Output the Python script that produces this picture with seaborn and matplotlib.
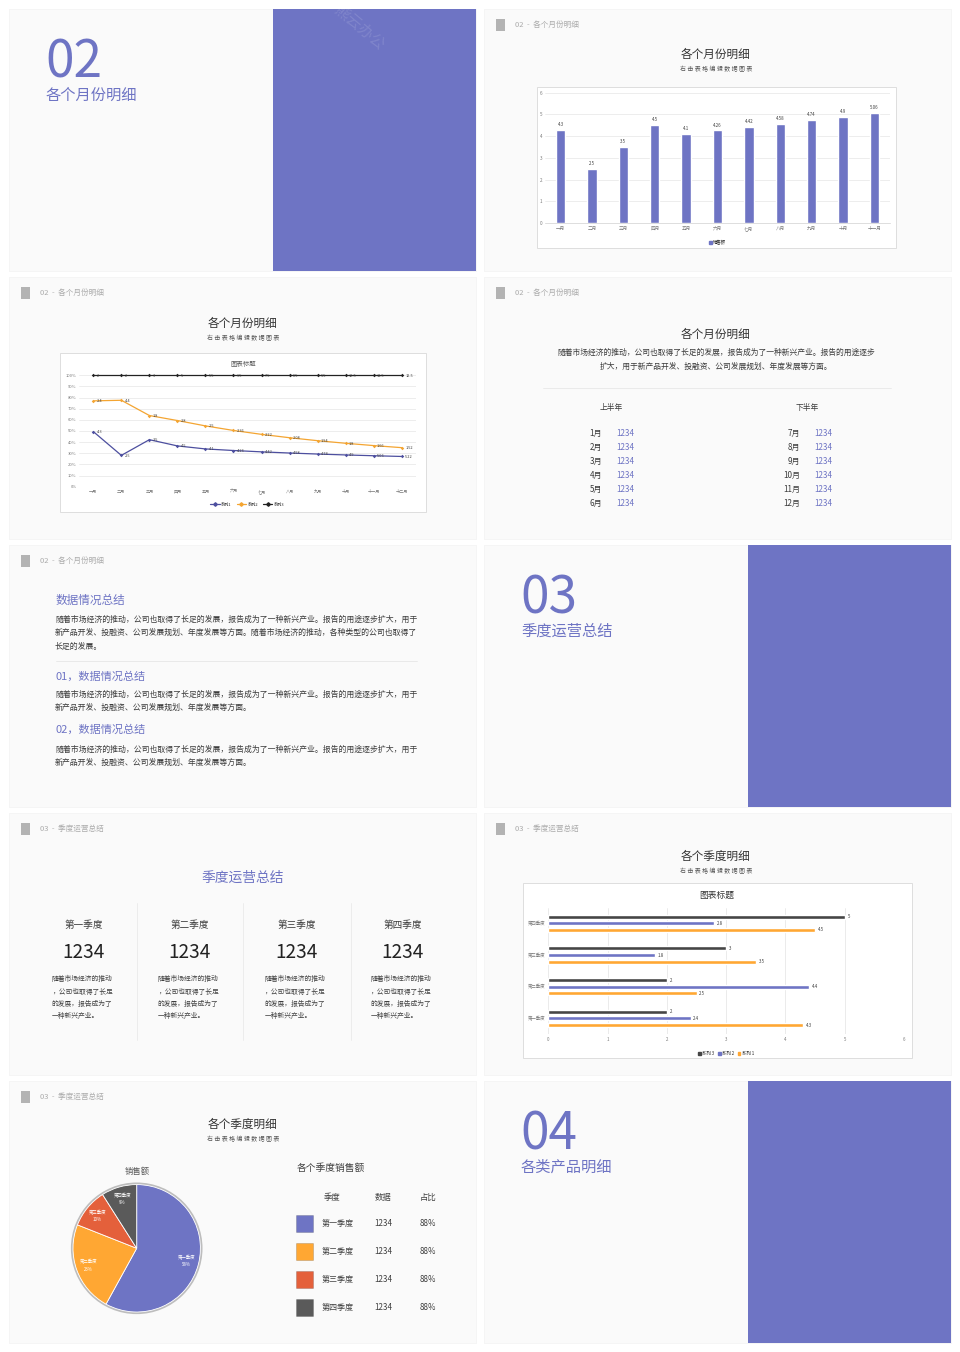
import numpy as np
import pandas as pd
import seaborn as sns
import matplotlib.pyplot as plt
from matplotlib.patches import Rectangle, Patch, Circle
from matplotlib.lines import Line2D

# ---- data ----
months_11 = ['一月', '二月', '三月', '四月', '五月', '六月', '七月', '八月', '九月', '十月', '十一月']
sales_11 = [4.3, 2.5, 3.5, 4.5, 4.1, 4.26, 4.42, 4.58, 4.74, 4.9, 5.06]

months_12 = months_11 + ['十二月']
line_s1 = [4.3, 2.5, 3.5, 4.5, 4.1, 4.26, 4.42, 4.58, 4.74, 4.9, 5.06, 5.22]
line_s2 = [2.4, 4.4, 1.8, 2.8, 2.5, 2.36, 2.22, 2.08, 1.94, 1.8, 1.66, 1.52]
line_s3 = [2, 2, 3, 5, 5.5, 6.5, 7.5, 8.5, 9.5, 10.5, 11.5, 12.5]

quarters = ['第一季度', '第二季度', '第三季度', '第四季度']
q_s1 = [4.3, 2.5, 3.5, 4.5]
q_s2 = [2.4, 4.4, 1.8, 2.8]
q_s3 = [2, 2, 3, 5]

pie_share = [58, 23, 10, 9]

first_half = ['1月', '2月', '3月', '4月', '5月', '6月']
second_half = ['7月', '8月', '9月', '10月', '11月', '12月']
month_values = ['1234'] * 6
quarter_values = ['1234'] * 4
table_values = ['1234'] * 4
table_ratio = ['88%'] * 4

PURPLE = '#6E74C4'
ORANGE = '#FFA733'
RED = '#E4603B'
DARK = '#454545'
GREY_PIE = '#5A5A5A'
LINE1 = '#4D4F9F'
LINE2 = '#F4A532'
LINE3 = '#222222'
TXT = '#3A3A3A'

PARA = '随着市场经济的推动，公司也取得了长足的发展，报告成为了一种新兴产业。报告的用途逐步扩大，用于'

sns.set_theme(style='white')
plt.rcParams['font.family'] = ['Noto Sans CJK SC', 'DejaVu Sans']
plt.rcParams['axes.unicode_minus'] = False

W, H = 960, 1352
fig = plt.figure(figsize=(9.6, 13.52), dpi=100)
fig.patch.set_facecolor('white')
bg = fig.add_axes([0, 0, 1, 1])
bg.set_xlim(0, W)
bg.set_ylim(H, 0)
bg.axis('off')

COLS = [9, 484]
ROWS = [9, 277, 545, 813, 1081]
SW, SH = 467, 262


def px_axes(x, y, w, h):
    return fig.add_axes([x / W, 1 - (y + h) / H, w / W, h / H])


def slide(c, r):
    x0, y0 = COLS[c], ROWS[r]
    bg.add_patch(Rectangle((x0, y0), SW, SH, fc='#FAFAFA', ec='#F2F2F2', lw=0.5))
    return x0, y0


def header(x0, y0, text):
    bg.add_patch(Rectangle((x0 + 12, y0 + 10), 9, 12, fc='#B3B3B3', ec='none'))
    bg.text(x0 + 31, y0 + 16, text, fontsize=5.5, color='#ABABAB', va='center')


def titles(cx, y, title, sub=True):
    bg.text(cx, y, title, fontsize=8.4, color='#333333', ha='center', va='center')
    if sub:
        bg.text(cx, y + 15, ' '.join('右击表格编辑数据图表'), fontsize=4.3, color='#555555',
                ha='center', va='center')


def section(c, r, num, title, mark=False):
    x0, y0 = slide(c, r)
    bg.text(x0 + 36, y0 + 68, num, fontsize=37, color=PURPLE, va='baseline', fontweight='light')
    bg.text(x0 + 37, y0 + 86, title, fontsize=11, color=PURPLE, va='center')
    bg.add_patch(Rectangle((x0 + 264, y0), SW - 264, SH, fc=PURPLE, ec='none'))
    if mark:
        t = bg.text(x0 + 350, y0 + 18, '熊云办公', fontsize=11, color='white', alpha=0.12,
                    rotation=-40, ha='center', va='center')
        t.set_clip_path(Rectangle((x0 + 264, y0), SW - 264, SH, transform=bg.transData))


def style_small(ax):
    ax.set_facecolor('none')
    for s in ax.spines.values():
        s.set_visible(False)
    ax.set_xlabel('')
    ax.set_ylabel('')
    ax.tick_params(length=0, pad=2, labelsize=3.3, colors='#7A7A7A')


# ---- slide 1: section 02 ----
section(0, 0, '02', '各个月份明细', mark=True)

# ---- slide 2: monthly bar chart ----
x0, y0 = slide(1, 0)
header(x0, y0, '02  -  各个月份明细')
titles(716, 54, '各个月份明细')
bg.add_patch(Rectangle((537, 87), 359, 161, fc='white', ec='#D9D9D9', lw=0.6))
ax = px_axes(545, 92.7, 345, 130.3)
bar_df = pd.DataFrame({'month': months_11, 'sales': sales_11})
sns.barplot(data=bar_df, x='month', y='sales', color=PURPLE, width=0.3, saturation=1, ax=ax)
ax.set_ylim(0, 6)
ax.set_yticks(range(7))
ax.grid(axis='y', color='#E6E6E6', lw=0.5)
ax.set_axisbelow(True)
style_small(ax)
ax.spines['bottom'].set_visible(True)
ax.spines['bottom'].set_color('#D0D0D0')
ax.spines['bottom'].set_linewidth(0.5)
ax.bar_label(ax.containers[0], fmt='%g', padding=2, fontsize=3.2, color='#404040')
ax.legend(handles=[Patch(color=PURPLE, label='销售额')], loc='upper center',
          bbox_to_anchor=(0.5, -0.1), fontsize=3.2, frameon=False,
          handlelength=0.6, handleheight=0.6, handletextpad=0.3)

# ---- slide 3: 100% stacked line chart ----
x0, y0 = slide(0, 1)
header(x0, y0, '02  -  各个月份明细')
titles(243, 323, '各个月份明细')
bg.add_patch(Rectangle((60, 353), 366, 159, fc='white', ec='#D9D9D9', lw=0.6))
bg.text(243, 364, '图表标题', fontsize=4.6, color='#595959', ha='center', va='center')
ax = px_axes(79.3, 375, 336.4, 111.7)
s1, s2, s3 = map(np.array, (line_s1, line_s2, line_s3))
total = s1 + s2 + s3
cum = {'系列1': s1 / total, '系列2': (s1 + s2) / total, '系列3': total / total}
raw = {'系列1': line_s1, '系列2': line_s2, '系列3': line_s3}
line_df = pd.concat([pd.DataFrame({'idx': range(12), 'pct': cum[k], 'series': k}) for k in cum])
pal = [LINE1, LINE2, LINE3]
sns.lineplot(data=line_df, x='idx', y='pct', hue='series', palette=pal, marker='D',
             markersize=1.8, markeredgewidth=0, linewidth=0.9, legend=False, ax=ax)
for k in cum:
    for i, (yv, lab) in enumerate(zip(cum[k], raw[k])):
        ax.annotate(f'{lab:g}', (i, yv), xytext=(2.5, -0.3), textcoords='offset points',
                    fontsize=2.8, va='center', color='#404040')
ax.set_xlim(-0.5, 11.5)
ax.set_ylim(0, 1.002)
ax.set_yticks(np.arange(0, 1.01, 0.1))
ax.set_yticklabels([f'{int(round(v * 100))}%' for v in np.arange(0, 1.01, 0.1)])
ax.set_xticks(range(12))
ax.set_xticklabels(months_12)
ax.grid(axis='y', color='#E6E6E6', lw=0.5)
ax.set_axisbelow(True)
style_small(ax)
ax.tick_params(labelsize=3.0)
for ln in ax.lines:
    ln.set_clip_on(False)
ax.legend(handles=[Line2D([], [], color=c, lw=0.9, marker='D', markersize=1.8, label=k)
                   for c, k in zip(pal, cum)],
          loc='upper center', bbox_to_anchor=(0.5, -0.11), ncol=3, fontsize=3.0,
          frameon=False, handlelength=2.2, columnspacing=1.2, handletextpad=0.4)

# ---- slide 4: half-year table ----
x0, y0 = slide(1, 1)
header(x0, y0, '02  -  各个月份明细')
titles(716, 334, '各个月份明细', sub=False)
bg.text(716, 353, '随着市场经济的推动，公司也取得了长足的发展，报告成为了一种新兴产业。报告的用途逐步',
        fontsize=5.6, color=TXT, ha='center', va='center')
bg.text(716, 367, '扩大，用于新产品开发、投融资、公司发展规划、年度发展等方面。',
        fontsize=5.6, color=TXT, ha='center', va='center')
bg.plot([543, 891], [388, 388], color='#E8E8E8', lw=0.6)
bg.text(611, 408, '上半年', fontsize=5.6, color=TXT, ha='center', va='center')
bg.text(807, 408, '下半年', fontsize=5.6, color=TXT, ha='center', va='center')
for i in range(6):
    yy = 433.3 + 14 * i
    bg.text(602, yy, first_half[i], fontsize=5.8, color=TXT, ha='right', va='center')
    bg.text(616, yy, month_values[i], fontsize=5.8, color=PURPLE, ha='left', va='center')
    bg.text(800, yy, second_half[i], fontsize=5.8, color=TXT, ha='right', va='center')
    bg.text(814, yy, month_values[i], fontsize=5.8, color=PURPLE, ha='left', va='center')

# ---- slide 5: text summary ----
x0, y0 = slide(0, 2)
header(x0, y0, '02  -  各个月份明细')
bg.text(55, 600, '数据情况总结', fontsize=8.4, color=PURPLE, va='center')
p1 = [PARA, '新产品开发、投融资、公司发展规划、年度发展等方面。随着市场经济的推动，各种类型的公司也取得了', '长足的发展。']
p2 = [PARA, '新产品开发、投融资、公司发展规划、年度发展等方面。']
for yy, line in zip([619, 632.5, 646.5], p1):
    bg.text(55, yy, line, fontsize=5.7, color=TXT, va='center')
bg.plot([56, 417], [661, 661], color='#E6E6E6', lw=0.6)
bg.text(55, 676.5, '01，数据情况总结', fontsize=8, color=PURPLE, va='center')
for yy, line in zip([694, 707.5], p2):
    bg.text(55, yy, line, fontsize=5.7, color=TXT, va='center')
bg.text(55, 729.3, '02，数据情况总结', fontsize=8, color=PURPLE, va='center')
for yy, line in zip([749, 762.5], p2):
    bg.text(55, yy, line, fontsize=5.7, color=TXT, va='center')

# ---- slide 6: section 03 ----
section(1, 2, '03', '季度运营总结')

# ---- slide 7: quarterly summary ----
x0, y0 = slide(0, 3)
header(x0, y0, '03  -  季度运营总结')
bg.text(243, 878, '季度运营总结', fontsize=9.9, color=PURPLE, ha='center', va='center')
col_cx = [84, 190, 296.7, 402.7]
q_lines = ['随着市场经济的推动', '，公司也取得了长足', '的发展，报告成为了', '一种新兴产业。']
for cx, q, v in zip(col_cx, quarters, quarter_values):
    bg.text(cx, 925, q, fontsize=6.9, color=TXT, ha='center', va='center')
    bg.text(cx, 952, v, fontsize=13.7, color='#222222', ha='center', va='center', fontweight='light')
    for yy, line in zip([979, 991.7, 1004, 1016.3], q_lines):
        bg.text(cx - 32.3, yy, line, fontsize=4.9, color='#404040', va='center')
for xv in [136.7, 242.7, 351]:
    bg.plot([xv, xv], [903, 1040], color='#EAEAEA', lw=0.6)

# ---- slide 8: quarterly horizontal bars ----
x0, y0 = slide(1, 3)
header(x0, y0, '03  -  季度运营总结')
titles(716, 856, '各个季度明细')
bg.add_patch(Rectangle((522.7, 883), 389, 175, fc='white', ec='#D9D9D9', lw=0.6))
bg.text(717, 895, '图表标题', fontsize=6.3, color='#333333', ha='center', va='center')
ax = px_axes(548.3, 907.5, 355.7, 126.7)
hue_order = ['系列 3', '系列 2', '系列 1']
q_df = pd.concat([pd.DataFrame({'quarter': quarters, 'value': vals, 'series': name})
                  for name, vals in zip(['系列 1', '系列 2', '系列 3'], [q_s1, q_s2, q_s3])])
hpal = [DARK, PURPLE, ORANGE]
sns.barplot(data=q_df, y='quarter', x='value', hue='series', order=quarters[::-1],
            hue_order=hue_order, palette=hpal, width=0.63, gap=0.4, orient='h',
            saturation=1, legend=False, ax=ax)
for cont in ax.containers:
    ax.bar_label(cont, fmt='%g', padding=2, fontsize=3.2, color='#404040')
ax.set_xlim(0, 6)
ax.set_xticks(range(7))
ax.grid(axis='x', color='#E3E3E3', lw=0.5)
ax.set_axisbelow(True)
style_small(ax)
ax.tick_params(labelsize=3.2)
ax.legend(handles=[Patch(color=c, label=k) for c, k in zip(hpal, hue_order)],
          loc='upper center', bbox_to_anchor=(0.5, -0.1), ncol=3, fontsize=3.2,
          frameon=False, handlelength=0.6, handleheight=0.6, handletextpad=0.3,
          columnspacing=0.8)

# ---- slide 9: pie + legend table ----
x0, y0 = slide(0, 4)
header(x0, y0, '03  -  季度运营总结')
titles(243, 1124, '各个季度明细')
bg.text(137.5, 1171.7, '销售额', fontsize=6, color='#595959', ha='center', va='center')
ax = px_axes(136.7 - 67, 1248.3 - 67, 134, 134)
pie_cols = [PURPLE, ORANGE, RED, GREY_PIE]
ax.add_patch(Circle((0, 0), 0.985, fc='none', ec='#BDBDBD', lw=1.6, zorder=0))
wedges, texts = ax.pie(pie_share, colors=pie_cols, startangle=90, counterclock=False,
                       radius=0.97, labels=[f'{q}\n{p}%' for q, p in zip(quarters, pie_share)],
                       labeldistance=0.8, wedgeprops=dict(edgecolor='white', lw=0.6),
                       textprops=dict(color='white', fontsize=3.2, linespacing=1.5))
for t in texts:
    t.set_ha('center')
    t.set_va('center')
ax.set_xlim(-1.02, 1.02)
ax.set_ylim(-1.02, 1.02)

bg.text(296.7, 1168.3, '各个季度销售额', fontsize=7, color='#404040', va='center')
bg.text(331.7, 1197.7, '季度', fontsize=6, color='#404040', ha='center', va='center')
bg.text(383.3, 1197.7, '数据', fontsize=6, color='#404040', ha='center', va='center')
bg.text(428.3, 1197.7, '占比', fontsize=6, color='#404040', ha='center', va='center')
for i, (q, c) in enumerate(zip(quarters, pie_cols)):
    yy = 1223.3 + 28 * i
    bg.add_patch(Rectangle((296, yy - 8.5), 17, 17, fc=c, ec='#00000033', lw=0.5))
    bg.text(322, yy, q, fontsize=5.8, color='#404040', va='center')
    bg.text(383.3, yy, table_values[i], fontsize=5.8, color='#404040', ha='center', va='center')
    bg.text(428.3, yy, table_ratio[i], fontsize=5.8, color='#404040', ha='center', va='center')

# ---- slide 10: section 04 ----
section(1, 4, '04', '各类产品明细')

fig.savefig('out.png', dpi=100, facecolor=fig.get_facecolor())
